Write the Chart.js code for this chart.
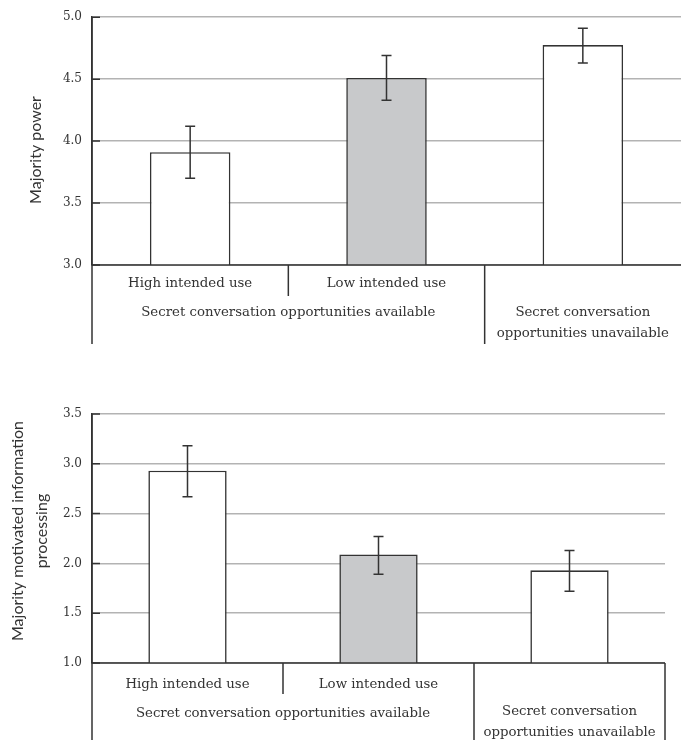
<!DOCTYPE html>
<html><head><meta charset="utf-8">
<script src="https://cdn.jsdelivr.net/npm/chart.js@4.4.1/dist/chart.umd.min.js"></script>
<style>
html,body{margin:0;padding:0;background:#fff;}
#wrap{position:relative;width:681px;height:740px;overflow:hidden;}
#c1{position:absolute;left:0;top:0;}
#c2{position:absolute;left:0;top:380px;}
</style></head><body>
<div id="wrap"><canvas id="c1" width="681" height="370"></canvas><canvas id="c2" width="681" height="360"></canvas></div>
<script>
const categories = ['High intended use', 'Low intended use', 'Secret conversation opportunities unavailable'];
const subLabels = ['High intended use', 'Low intended use'];
const groupLabel = 'Secret conversation opportunities available';
const unavailLabel = ['Secret conversation', 'opportunities unavailable'];
const barColors = ['#ffffff', '#c8c9cb', '#ffffff'];

const powerMeans = [3.91, 4.51, 4.775];
const powerLow = [3.70, 4.33, 4.63];
const powerHigh = [4.12, 4.69, 4.91];
const powerTicks = [3.0, 3.5, 4.0, 4.5, 5.0];
const powerTitle = ['Majority power'];

const procMeans = [2.93, 2.09, 1.93];
const procLow = [2.67, 1.89, 1.72];
const procHigh = [3.18, 2.27, 2.13];
const procTicks = [1.0, 1.5, 2.0, 2.5, 3.0, 3.5];
const procTitle = ['Majority motivated information', 'processing'];

const FONT = '"DejaVu Serif", "Liberation Serif", serif';
const TFONT = 'Lato, "Open Sans", sans-serif';
const TXT = '#333333';
const DARK = '#333333';

const tablePlugin = {
  id: 'tablePlugin',
  afterDatasetsDraw(chart, args, opts) {
    const ctx = chart.ctx;
    const ca = chart.chartArea;
    const xs = chart.scales.x;
    const ys = chart.scales.y;
    const low = opts.low, high = opts.high;
    ctx.save();
    ctx.strokeStyle = DARK;
    ctx.lineWidth = 1.5;
    // inner tick marks on y axis
    ctx.beginPath();
    ys.ticks.forEach(t => {
      const y = ys.getPixelForValue(t.value);
      ctx.moveTo(ca.left, y); ctx.lineTo(ca.left + 8, y);
    });
    ctx.stroke();
    // error bars
    for (let i = 0; i < low.length; i++) {
      const x = xs.getPixelForValue(i);
      const y1 = ys.getPixelForValue(low[i]);
      const y2 = ys.getPixelForValue(high[i]);
      ctx.beginPath();
      ctx.moveTo(x, y1); ctx.lineTo(x, y2);
      ctx.moveTo(x - 5, y1); ctx.lineTo(x + 5, y1);
      ctx.moveTo(x - 5, y2); ctx.lineTo(x + 5, y2);
      ctx.stroke();
    }
    // table lines
    const b01 = (xs.getPixelForValue(0) + xs.getPixelForValue(1)) / 2;
    const b12 = (xs.getPixelForValue(1) + xs.getPixelForValue(2)) / 2;
    const base = ca.bottom;
    ctx.beginPath();
    ctx.moveTo(ca.left, base); ctx.lineTo(ca.right, base);
    ctx.moveTo(ca.left, ca.top); ctx.lineTo(ca.left, base + opts.depth);
    ctx.moveTo(b01, base); ctx.lineTo(b01, base + opts.subDepth);
    ctx.moveTo(b12, base); ctx.lineTo(b12, base + opts.depth);
    if (opts.rightBorder) { ctx.moveTo(ca.right, base); ctx.lineTo(ca.right, base + opts.depth); }
    ctx.stroke();
    // texts
    ctx.fillStyle = TXT;
    ctx.font = opts.fontSize + 'px ' + FONT;
    ctx.textAlign = 'center';
    ctx.textBaseline = 'middle';
    ctx.fillText(subLabels[0], xs.getPixelForValue(0), base + opts.subY);
    ctx.fillText(subLabels[1], xs.getPixelForValue(1), base + opts.subY);
    ctx.fillText(groupLabel, (ca.left + b12) / 2, base + opts.groupY);
    ctx.fillText(unavailLabel[0], xs.getPixelForValue(2), base + opts.u1);
    ctx.fillText(unavailLabel[1], xs.getPixelForValue(2), base + opts.u2);
    // y axis title (rotated)
    ctx.font = opts.titleSize + 'px ' + TFONT;
    const lines = opts.title;
    for (let k = 0; k < lines.length; k++) {
      ctx.save();
      ctx.translate(opts.titleX + k * opts.titleLH, opts.titleY);
      ctx.rotate(-Math.PI / 2);
      ctx.fillText(lines[k], 0, 0);
      ctx.restore();
    }
    ctx.restore();
  }
};

function makeChart(id, means, low, high, ticks, title, pad, tableOpts) {
  return new Chart(document.getElementById(id), {
    type: 'bar',
    data: {
      labels: categories,
      datasets: [{
        data: means,
        backgroundColor: barColors,
        borderColor: DARK,
        borderWidth: 1.6,
        borderSkipped: 'bottom',
        categoryPercentage: 1.0,
        barPercentage: 0.41
      }]
    },
    options: {
      responsive: false,
      animation: false,
      layout: { padding: pad },
      plugins: {
        legend: { display: false },
        tooltip: { enabled: false },
        tablePlugin: Object.assign({ low: low, high: high, title: title }, tableOpts)
      },
      scales: {
        x: { display: false },
        y: {
          min: ticks[0],
          max: ticks[ticks.length - 1],
          afterBuildTicks(scale) { scale.ticks = ticks.map(v => ({ value: v })); },
          afterFit(scale) { scale.width = 92; },
          border: { display: true, color: DARK, width: 1.5 },
          grid: { color: '#b3b3b3', lineWidth: 1.5, drawTicks: false },
          ticks: {
            padding: 10,
            color: TXT,
            font: { family: FONT, size: 12 },
            callback: v => Number(v).toFixed(1)
          },
          title: { display: false }
        }
      }
    },
    plugins: [tablePlugin]
  });
}

makeChart('c1', powerMeans, powerLow, powerHigh, powerTicks, powerTitle,
  { top: 16, left: 0, right: 0, bottom: 105 },
  { depth: 79, subDepth: 31, subY: 19, groupY: 48, u1: 48, u2: 69, fontSize: 13.3, rightBorder: false,
    titleSize: 16, titleX: 36, titleY: 150, titleLH: 0 });

makeChart('c2', procMeans, procLow, procHigh, procTicks, procTitle,
  { top: 34, left: 0, right: 16, bottom: 77 },
  { depth: 80, subDepth: 31, subY: 22, groupY: 51, u1: 49, u2: 70, fontSize: 13.3, rightBorder: true,
    titleSize: 16, titleX: 18, titleY: 151, titleLH: 24 });
</script>
</body></html>
